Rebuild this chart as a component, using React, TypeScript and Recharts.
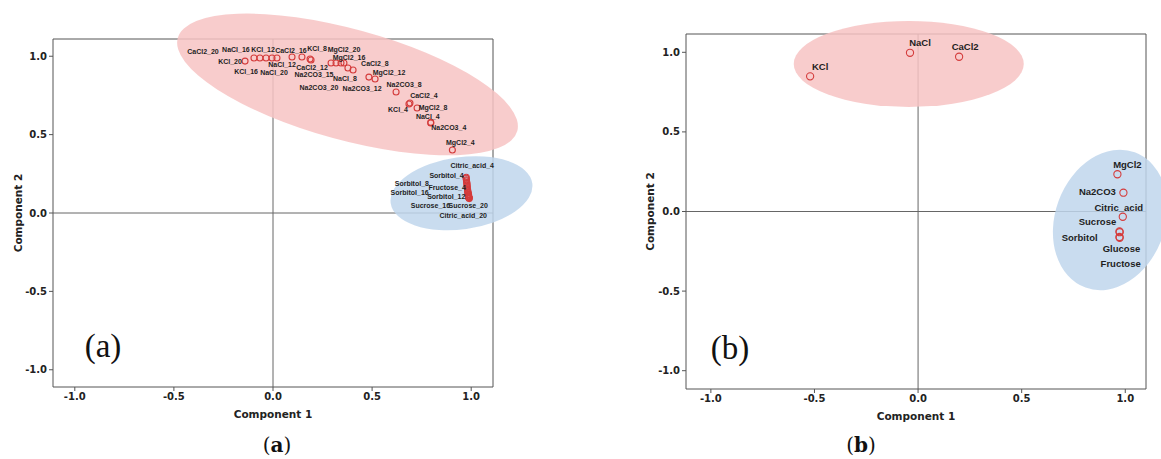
import React from 'react';
import { ScatterChart, Scatter, XAxis, YAxis, ReferenceLine, Label } from 'recharts';

// ---------- Panel (a) data: individual samples ----------
const saltNames = ['KCl_20', 'CaCl2_20', 'NaCl_16', 'KCl_16', 'KCl_12', 'NaCl_20', 'NaCl_12', 'CaCl2_16', 'KCl_8', 'MgCl2_20', 'CaCl2_12', 'Na2CO3_15', 'MgCl2_16', 'Na2CO3_20', 'NaCl_8', 'Na2CO3_12', 'CaCl2_8', 'MgCl2_12', 'Na2CO3_8', 'CaCl2_4', 'KCl_4', 'MgCl2_8', 'NaCl_4', 'Na2CO3_4', 'MgCl2_4'];
const saltX = [-0.141, -0.096, -0.066, -0.035, -0.005, 0.02, 0.096, 0.146, 0.187, 0.192, 0.293, 0.318, 0.343, 0.358, 0.378, 0.404, 0.484, 0.515, 0.621, 0.691, 0.686, 0.727, 0.796, 0.796, 0.905];
const saltY = [0.969, 0.989, 0.989, 0.989, 0.989, 0.989, 0.995, 0.995, 0.982, 0.976, 0.957, 0.957, 0.957, 0.957, 0.925, 0.912, 0.867, 0.855, 0.772, 0.702, 0.695, 0.67, 0.578, 0.574, 0.402];

const sugarNames = ['Citric_acid_4', 'Sorbitol_4', 'Citric_acid_8', 'Glucose_4', 'Sorbitol_8', 'Citric_acid_12', 'Glucose_8', 'Fructose_4', 'Fructose_8', 'Sorbitol_16', 'Glucose_12', 'Fructose_12', 'Citric_acid_16', 'Sucrose_12', 'Sorbitol_12', 'Fructose_20', 'Sucrose_4', 'Glucose_16', 'Sucrose_16', 'Glucose_20', 'Fructose_16', 'Sorbitol_20', 'Sucrose_8', 'Sucrose_20', 'Citric_acid_20'];
const sugarX = [0.975, 0.974, 0.976, 0.976, 0.978, 0.978, 0.979, 0.98, 0.98, 0.982, 0.982, 0.983, 0.984, 0.984, 0.985, 0.987, 0.985, 0.986, 0.986, 0.988, 0.987, 0.989, 0.988, 0.99, 0.99];
const sugarY = [0.228, 0.222, 0.212, 0.205, 0.195, 0.188, 0.18, 0.17, 0.163, 0.15, 0.143, 0.136, 0.128, 0.132, 0.12, 0.118, 0.115, 0.11, 0.105, 0.104, 0.101, 0.1, 0.098, 0.095, 0.092];

// cluster centres (panel a)
const clusterA = [
  { name: 'salts', x: 0.376, y: 0.82 },
  { name: 'sugars', x: 0.951, y: 0.126 },
];

// ---------- Panel (b) data: compound averages ----------
const compNames = ['KCl', 'NaCl', 'CaCl2', 'MgCl2', 'Na2CO3', 'Citric_acid', 'Sucrose', 'Sorbitol', 'Glucose', 'Fructose'];
const compX = [-0.521, -0.039, 0.198, 0.962, 0.991, 0.988, 0.972, 0.973, 0.972, 0.973];
const compY = [0.849, 0.997, 0.972, 0.234, 0.118, -0.033, -0.125, -0.13, -0.16, -0.165];

const clusterB = [
  { name: 'salts', x: -0.045, y: 0.927 },
  { name: 'sugars', x: 0.927, y: -0.053 },
];

const axisTicks = [-1, -0.5, 0, 0.5, 1];

// ---------- layout / style (not data) ----------
const labelOffsetsA: Record<string, [number, number]> = {
  KCl_20: [-15, 0], CaCl2_20: [-51, -6], NaCl_16: [-24, -8], KCl_16: [-20, 14], KCl_12: [-9, -8],
  NaCl_20: [-3, 15], NaCl_12: [-10, 7], CaCl2_16: [-11, -7], KCl_8: [7, -11], MgCl2_20: [33, -11],
  CaCl2_12: [-19, 5], Na2CO3_15: [-22, 12], MgCl2_16: [8, -5], Na2CO3_20: [-25, 25], NaCl_8: [-3, 10],
  Na2CO3_12: [9, 18], CaCl2_8: [6, -14], MgCl2_12: [14, -6], Na2CO3_8: [8, -7], CaCl2_4: [14, -7],
  KCl_4: [-11, 5], MgCl2_8: [16, 0], NaCl_4: [-3, -6], Na2CO3_4: [18, 4], MgCl2_4: [8, -7],
  Citric_acid_4: [6, -11.5], Sorbitol_4: [-19.5, -2.5], Sorbitol_8: [-55, 0.6], Fructose_4: [-20, 1.4],
  Sorbitol_16: [-58, 3], Sorbitol_12: [-22, 2.5], Sucrose_16: [-38, 9], Sucrose_20: [-1, 7.6],
  Citric_acid_20: [-6, 17],
};
const labelOffsetsB: Record<string, [number, number]> = {
  KCl: [10, -9.6], NaCl: [10, -10], CaCl2: [6, -10], MgCl2: [10, -10], Na2CO3: [-26, -1],
  Citric_acid: [-4, -9.4], Sucrose: [-22, -10], Sorbitol: [-40, 5], Glucose: [2, 12], Fructose: [1, 25.5],
};
const ellipseStyleA: Record<string, any> = {
  salts: { rx: 176, ry: 55.5, rot: 15.3, fill: '#F7C3C3' },
  sugars: { rx: 71.5, ry: 36, rot: -8, fill: '#BFD6EC' },
};
const ellipseStyleB: Record<string, any> = {
  salts: { rx: 115, ry: 43, rot: 0, fill: '#F7C3C3' },
  sugars: { rx: 55, ry: 72, rot: 20, fill: '#BFD6EC' },
};

const zip = (names: string[], xs: number[], ys: number[]) => names.map((name, i) => ({ name, x: xs[i], y: ys[i] }));

const tickStyle = { fontFamily: 'DejaVu Sans', fontWeight: 'bold', fontSize: 10, fill: '#222' } as any;
const axisTitleStyle = { fontFamily: 'DejaVu Sans', fontWeight: 'bold', fontSize: 10.5, fill: '#222' } as any;
const RED = '#D43C3C';
const LINE = '#555';

function Panel(props: any) {
  const { left, width, margin, xDomain, yDomain, clusters, ellipseStyle, points, offsets, fontSize, r, yLabelOffset } = props;
  const ellipseShape = (p: any) => {
    const s = ellipseStyle[p.payload.name];
    return (
      <ellipse cx={p.cx} cy={p.cy} rx={s.rx} ry={s.ry} fill={s.fill} fillOpacity={0.85}
        transform={`rotate(${s.rot} ${p.cx} ${p.cy})`} />
    );
  };
  const pointShape = (p: any) => (
    <circle cx={p.cx} cy={p.cy} r={r} fill="none" stroke={RED} strokeWidth={1.1} />
  );
  const labelShape = (p: any) => {
    const o = offsets[p.payload.name];
    if (!o) return <g />;
    return (
      <text x={p.cx + o[0]} y={p.cy + o[1]} textAnchor="middle" dominantBaseline="central"
        fontFamily="Liberation Sans, Arial" fontWeight="bold" fontSize={fontSize} fill="#1e1e1e">
        {p.payload.name}
      </text>
    );
  };
  return (
    <div style={{ position: 'absolute', left, top: 0 }}>
      <ScatterChart width={width} height={459} margin={margin} style={{ overflow: 'visible' }}>
        <XAxis type="number" dataKey="x" domain={xDomain} ticks={axisTicks} interval={0}
          tickFormatter={(v: number) => v.toFixed(1)} tick={tickStyle} tickSize={4} tickMargin={2}
          axisLine={{ stroke: LINE }} tickLine={{ stroke: LINE }} height={31}>
          <Label value="Component 1" position="insideBottom" offset={0} style={axisTitleStyle} />
        </XAxis>
        <YAxis type="number" dataKey="y" domain={yDomain} ticks={axisTicks} interval={0}
          tickFormatter={(v: number) => v.toFixed(1)} tick={tickStyle} tickSize={4} tickMargin={2}
          axisLine={{ stroke: LINE }} tickLine={{ stroke: LINE }} width={40}>
          <Label value="Component 2" angle={-90} position="insideLeft" offset={yLabelOffset}
            style={{ ...axisTitleStyle, textAnchor: 'middle' }} />
        </YAxis>
        <Scatter data={clusters} shape={ellipseShape} isAnimationActive={false} />
        <ReferenceLine x={0} stroke="#666" strokeWidth={1} />
        <ReferenceLine y={0} stroke="#666" strokeWidth={1} />
        <ReferenceLine x={xDomain[1]} stroke={LINE} strokeWidth={1} />
        <ReferenceLine y={yDomain[1]} stroke={LINE} strokeWidth={1} />
        <Scatter data={points} shape={pointShape} isAnimationActive={false} />
        <Scatter data={points} shape={labelShape} isAnimationActive={false} />
      </ScatterChart>
    </div>
  );
}

export default function App() {
  const pointsA = [...zip(saltNames, saltX, saltY), ...zip(sugarNames, sugarX, sugarY)];
  const pointsB = zip(compNames, compX, compY);
  return (
    <div style={{ position: 'absolute', left: 0, top: 0, width: 1161, height: 459, background: '#fff', overflow: 'hidden' }}>
      <Panel left={0} width={580} margin={{ top: 39, right: 87, bottom: 41, left: 13 }}
        xDomain={[-1.11, 1.11]} yDomain={[-1.11, 1.11]} clusters={clusterA} ellipseStyle={ellipseStyleA}
        points={pointsA} offsets={labelOffsetsA} fontSize={7} r={3} yLabelOffset={5} />
      <Panel left={580} width={581} margin={{ top: 34, right: 15, bottom: 39, left: 66 }}
        xDomain={[-1.12, 1.1]} yDomain={[-1.115, 1.115]} clusters={clusterB} ellipseStyle={ellipseStyleB}
        points={pointsB} offsets={labelOffsetsB} fontSize={9.5} r={3.6} yLabelOffset={4} />
      <svg width={1161} height={459} style={{ position: 'absolute', left: 0, top: 0, pointerEvents: 'none' }}>
        <text x={103} y={357} textAnchor="middle" fontFamily="Liberation Serif" fontSize={33} fill="#111">(a)</text>
        <text x={730} y={359} textAnchor="middle" fontFamily="Liberation Serif" fontSize={33} fill="#111">(b)</text>
        <text x={277} y={452} textAnchor="middle" fontFamily="DejaVu Serif" fontSize={20} fill="#111">
          (<tspan fontWeight="bold">a</tspan>)
        </text>
        <text x={861} y={452} textAnchor="middle" fontFamily="DejaVu Serif" fontSize={20} fill="#111">
          (<tspan fontWeight="bold">b</tspan>)
        </text>
      </svg>
    </div>
  );
}
